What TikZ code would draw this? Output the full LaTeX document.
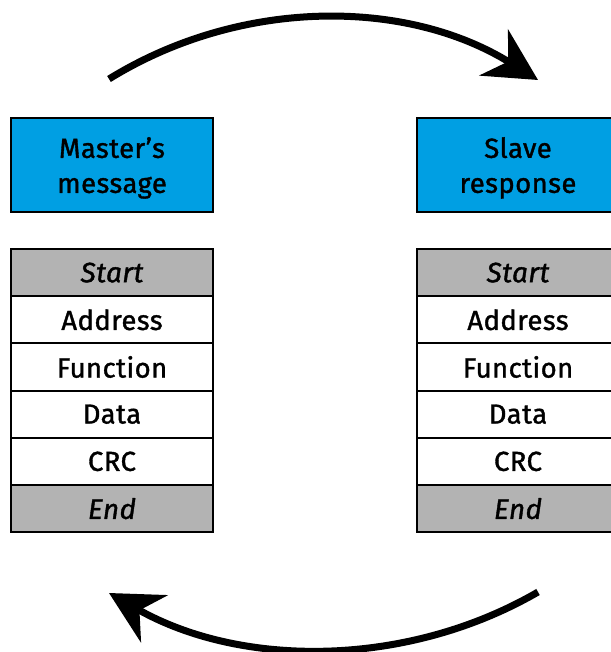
\documentclass[tikz,border=0pt]{standalone}
\usepackage{fontspec}
\setmainfont{Fira Sans}[LetterSpace=1.5, FakeBold=1.3]
\usetikzlibrary{arrows.meta}
\definecolor{hdrblue}{RGB}{0,159,227}
\definecolor{rowgray}{RGB}{179,179,179}
\tikzset{
  cell/.style={draw=black, line width=2pt, anchor=north west, inner sep=0pt, outer sep=0pt,
    minimum width=202pt, font=\fontsize{27.5}{30}\selectfont, text=black},
  hdr/.style={cell, fill=hdrblue, minimum height=94pt, align=center, text depth=0pt,
    font=\fontsize{27.5}{35}\selectfont},
  row/.style={cell, fill=white, minimum height=47.2pt},
  grayrow/.style={cell, fill=rowgray, minimum height=47.2pt, font=\fontsize{28}{30}\selectfont\itshape},
  cyclearrow/.style={line width=7pt, -{Stealth[length=52pt, width=54pt, inset=17pt]}}
}
\begin{document}
\begin{tikzpicture}[x=1pt, y=-1pt]
\useasboundingbox (0,0) rectangle (610,652);
% left column
\node[hdr] (mh) at (11,118) {Master’s\\message};
\node[grayrow] (ms) at (11,249) {Start};
\node[row] (ma) at (11,296.2) {Address};
\node[row] (mf) at (11,343.4) {Function};
\node[row] (md) at (11,390.6) {Data};
\node[row] (mc) at (11,437.8) {CRC};
\node[grayrow] (me) at (11,485) {End};
% right column
\node[hdr] (sh) at (417,118) {Slave\\response};
\node[grayrow] (ss) at (417,249) {Start};
\node[row] (sa) at (417,296.2) {Address};
\node[row] (sf) at (417,343.4) {Function};
\node[row] (sd) at (417,390.6) {Data};
\node[row] (sc) at (417,437.8) {CRC};
\node[grayrow] (se) at (417,485) {End};
% arrows
\coordinate (t1) at (109,79);
\coordinate (t2) at (538,80);
\coordinate (b1) at (538,592);
\coordinate (b2) at (109,593);
\draw[cyclearrow] (t1) .. controls (240,-2) and (406,-2) .. (t2);
\draw[cyclearrow] (b1) .. controls (407,668) and (241,668) .. (b2);
\end{tikzpicture}
\end{document}
